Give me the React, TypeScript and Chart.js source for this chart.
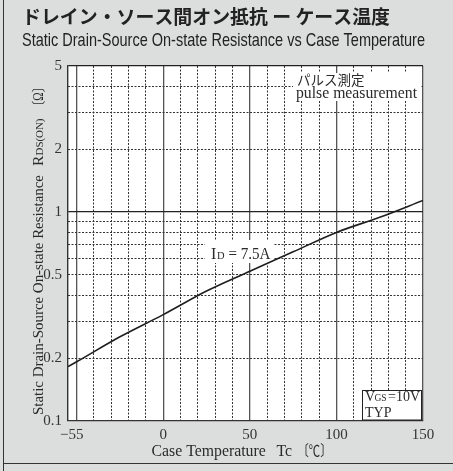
import React, { useEffect, useRef } from 'react';
import { Chart, registerables } from 'chart.js';

Chart.register(...registerables);

// ---- data ----
const temperatures = [-55, -50, -25, 0, 25, 50, 75, 100, 125, 150];
const resistance = [0.182, 0.192, 0.253, 0.323, 0.419, 0.521, 0.645, 0.799, 0.944, 1.136];

const xLabelTicks = [-55, -50, 0, 50, 100, 150];
const xTickLabels = ['\u2002\u221255', '', '0', '50', '100', '150'];
const xMinorTicks = [-40, -30, -20, -10, 10, 20, 30, 40, 60, 70, 80, 90, 110, 120, 130, 140];
const yLabelTicks = [0.1, 0.2, 0.5, 1, 2, 5];
const yTickLabels = ['0.1', '0.2', '0.5', '1', '2', '5'];
const yMinorTicks = [0.2, 0.3, 0.4, 0.5, 0.6, 0.7, 0.8, 0.9, 2, 3, 4];
const ySolidGrid = [1, 5];

const titleJa = 'ドレイン・ソース間オン抵抗 ー ケース温度';
const titleEn = 'Static Drain-Source On-state Resistance vs Case Temperature';
const yTitleMain = 'Static Drain-Source On-state Resistance';
const xTitleMain = 'Case Temperature';
const noteJa = 'パルス測定';
const noteEn = 'pulse measurement';
const curveLabel = '= 7.5A';
const condition1 = '=10V';
const condition2 = 'TYP';

const SERIF = '"Liberation Serif", "Noto Sans CJK JP", serif';
const BG = '#dcdedd';
const INK = '#2a2a2a';

function txt(ctx: CanvasRenderingContext2D, s: string, x: number, y: number, size: number, maxW?: number) {
  ctx.font = `${size}px ${SERIF}`;
  if (maxW) ctx.fillText(s, x, y, maxW);
  else ctx.fillText(s, x, y);
}

const decorPlugin = {
  id: 'decor',
  beforeDraw(chart: any) {
    const { ctx, width, height, chartArea: a } = chart;
    ctx.save();
    ctx.fillStyle = BG;
    ctx.fillRect(0, 0, width, height);
    ctx.fillStyle = '#ffffff';
    ctx.fillRect(a.left, a.top, a.right - a.left, a.bottom - a.top);
    // frame lines
    ctx.strokeStyle = '#333';
    ctx.lineWidth = 1;
    ctx.beginPath();
    ctx.moveTo(3.5, 0);
    ctx.lineTo(3.5, height);
    ctx.moveTo(3.5, 463.5);
    ctx.lineTo(width, 463.5);
    ctx.stroke();
    // titles
    ctx.fillStyle = '#222';
    ctx.textBaseline = 'middle';
    ctx.textAlign = 'left';
    ctx.font = 'bold 19px "Noto Sans CJK JP", sans-serif';
    ctx.fillText(titleJa, 22, 17, 368);
    ctx.textBaseline = 'alphabetic';
    ctx.font = '19px "Liberation Sans", Arial, sans-serif';
    ctx.fillText(titleEn, 22, 46, 403);
    // x title
    ctx.fillStyle = INK;
    txt(ctx, xTitleMain, 151.5, 456, 15.8, 116);
    txt(ctx, 'Tc', 276.5, 456, 15.8);
    txt(ctx, '〔℃〕', 297.5, 456, 15, 34);
    // y title (rotated)
    ctx.save();
    ctx.translate(43, 415);
    ctx.rotate(-Math.PI / 2);
    txt(ctx, yTitleMain, 0, 0, 15.4, 240);
    txt(ctx, 'R', 249, 0, 15.4);
    txt(ctx, 'DS(ON)', 259.5, 0, 11, 37);
    txt(ctx, '〔Ω〕', 303, 0, 14, 31);
    ctx.restore();
    ctx.restore();
  },
  beforeDatasetsDraw(chart: any) {
    const { ctx } = chart;
    ctx.save();
    ctx.textAlign = 'left';
    ctx.textBaseline = 'alphabetic';
    // pulse measurement note
    ctx.fillStyle = '#fff';
    ctx.fillRect(293, 73, 127, 28);
    ctx.fillStyle = INK;
    ctx.font = '13.5px "Noto Sans CJK JP", sans-serif';
    ctx.fillText(noteJa, 297, 85);
    txt(ctx, noteEn, 296, 98, 15.8, 121);
    // ID label
    ctx.fillStyle = '#fff';
    ctx.fillRect(205, 240, 68, 23);
    ctx.fillStyle = INK;
    txt(ctx, 'I', 211, 258.5, 16);
    txt(ctx, 'D', 217, 258.5, 10.5);
    txt(ctx, curveLabel, 228.5, 258.5, 16, 42);
    // VGS box
    ctx.fillStyle = '#fff';
    ctx.fillRect(362.5, 390.5, 59, 29.5);
    ctx.strokeStyle = '#222';
    ctx.lineWidth = 1;
    ctx.strokeRect(362.5, 390.5, 59, 29.5);
    ctx.fillStyle = INK;
    txt(ctx, 'V', 365, 401, 14);
    txt(ctx, 'GS', 374.5, 401, 9.5);
    txt(ctx, condition1, 388, 401, 14, 32);
    txt(ctx, condition2, 365, 416.5, 14, 29);
    ctx.restore();
  },
};

const tickFont = { family: SERIF, size: 15 };

export default function App() {
  const ref = useRef<HTMLCanvasElement | null>(null);
  useEffect(() => {
    if (!ref.current) return;
    const chart = new Chart(ref.current, {
      type: 'line',
      data: {
        datasets: [
          {
            data: temperatures.map((t, i) => ({ x: t, y: resistance[i] })),
            borderColor: '#1e1e1e',
            borderWidth: 1.6,
            pointRadius: 0,
            fill: false,
            cubicInterpolationMode: 'monotone',
          } as any,
        ],
      },
      options: {
        animation: false,
        responsive: false,
        maintainAspectRatio: false,
        devicePixelRatio: 1,
        layout: { padding: { top: 66, right: 30, left: 0, bottom: 0 } },
        plugins: { legend: { display: false }, tooltip: { enabled: false }, title: { display: false } },
        scales: {
          x: {
            type: 'linear',
            position: 'bottom',
            min: -55,
            max: 150,
            afterBuildTicks: (s: any) => {
              s.ticks = xLabelTicks.map((v) => ({ value: v }));
            },
            afterFit: (s: any) => {
              s.height = 50;
            },
            ticks: {
              autoSkip: false,
              maxRotation: 0,
              minRotation: 0,
              padding: 5,
              color: '#333',
              font: tickFont,
              callback: (v: any) => {
                const i = xLabelTicks.indexOf(Number(v));
                return i >= 0 ? xTickLabels[i] : '';
              },
            },
            grid: { color: '#555', lineWidth: 1.3, drawTicks: false },
            border: { display: true, color: '#333', width: 1.2 },
          },
          x2: {
            type: 'linear',
            position: 'bottom',
            axis: 'x',
            min: -55,
            max: 150,
            afterBuildTicks: (s: any) => {
              s.ticks = xMinorTicks.map((v) => ({ value: v }));
            },
            afterFit: (s: any) => {
              s.height = 0;
            },
            ticks: { display: false, autoSkip: false },
            grid: { color: '#333', lineWidth: 1, drawTicks: false },
            border: { display: false, dash: [2, 1.5] },
          },
          y: {
            type: 'logarithmic',
            position: 'left',
            min: 0.1,
            max: 5,
            afterBuildTicks: (s: any) => {
              s.ticks = yLabelTicks.map((v) => ({ value: v }));
            },
            afterFit: (s: any) => {
              s.width = 68;
            },
            ticks: {
              autoSkip: false,
              padding: 6,
              color: '#333',
              font: tickFont,
              callback: (v: any) => {
                const i = yLabelTicks.indexOf(Number(v));
                return i >= 0 ? yTickLabels[i] : '';
              },
            },
            grid: {
              color: '#222',
              drawTicks: false,
              lineWidth: (c: any) => (c.tick && ySolidGrid.includes(c.tick.value) ? 1.2 : 0),
            },
            border: { display: true, color: '#333', width: 1.2 },
          },
          y2: {
            type: 'logarithmic',
            position: 'left',
            axis: 'y',
            min: 0.1,
            max: 5,
            afterBuildTicks: (s: any) => {
              s.ticks = yMinorTicks.map((v) => ({ value: v }));
            },
            afterFit: (s: any) => {
              s.width = 0;
            },
            ticks: { display: false, autoSkip: false },
            grid: { color: '#333', lineWidth: 1, drawTicks: false },
            border: { display: false, dash: [2, 1.5] },
          },
        } as any,
      },
      plugins: [decorPlugin],
    });
    return () => chart.destroy();
  }, []);
  return (
    <div style={{ position: 'fixed', left: 0, top: 0, width: 453, height: 471 }}>
      <canvas ref={ref} width={453} height={471} style={{ display: 'block', width: 453, height: 471 }} />
    </div>
  );
}
